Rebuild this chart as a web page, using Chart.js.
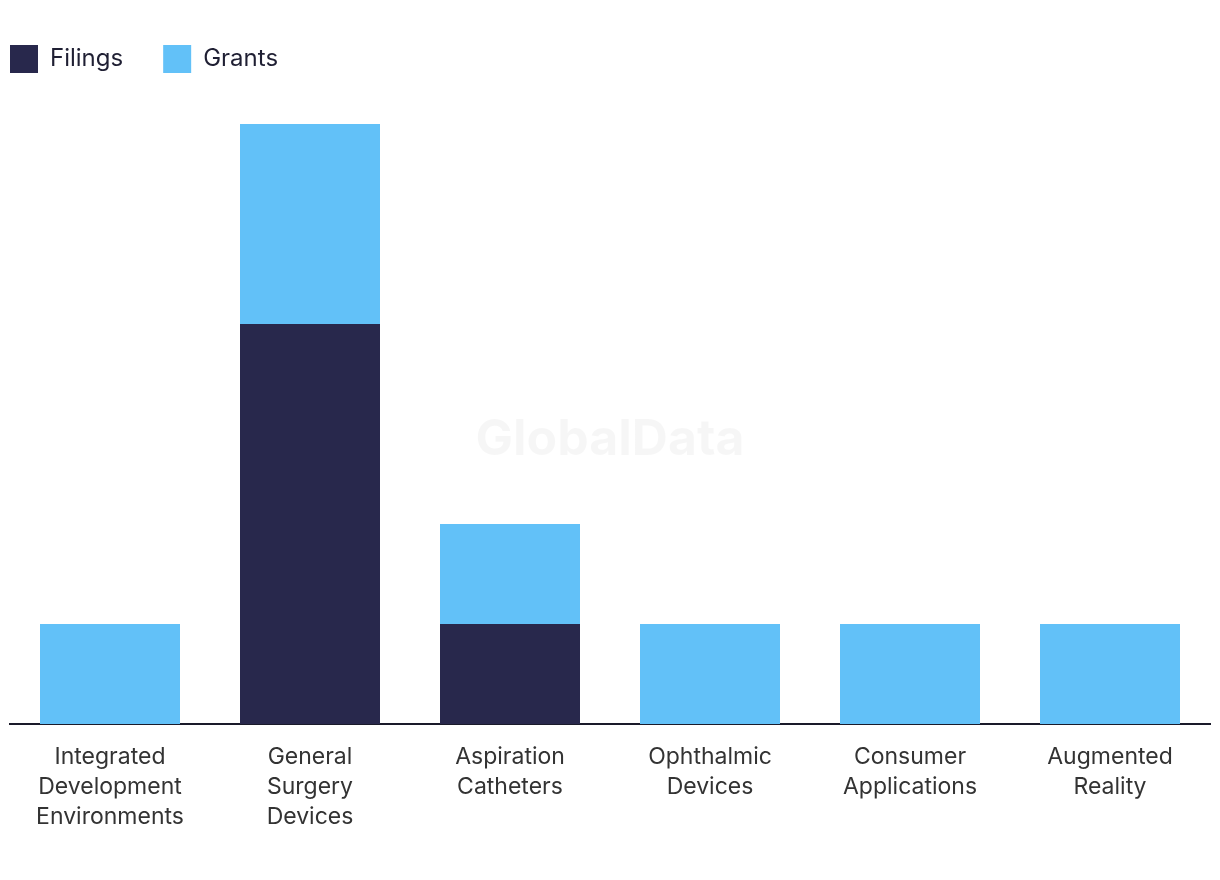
<!DOCTYPE html>
<html>
<head>
<meta charset="utf-8">
<script src="https://cdn.jsdelivr.net/npm/chart.js@4"></script>
<style>
  html, body { margin: 0; padding: 0; background: #ffffff; }
  #wrap { width: 1220px; height: 880px; }
</style>
</head>
<body>
<div id="wrap"><canvas id="ChartCanvas" width="1220" height="880"></canvas></div>
<script>
var categories = [
    ["Integrated", "Development", "Environments"],
    ["General", "Surgery", "Devices"],
    ["Aspiration", "Catheters"],
    ["Ophthalmic", "Devices"],
    ["Consumer", "Applications"],
    ["Augmented", "Reality"]
];
var filings = [0, 4, 1, 0, 0, 0];
var grants = [1, 2, 1, 1, 1, 1];

var fontFamily = "Inter, 'Noto Sans', sans-serif";

// faint watermark in the middle of the plot
var watermark = {
    id: 'watermark',
    beforeDatasetsDraw: function (chart) {
        var ctx = chart.ctx;
        ctx.save();
        ctx.font = "bold 50px " + fontFamily;
        ctx.fillStyle = "rgba(0, 0, 0, 0.035)";
        ctx.textAlign = "center";
        ctx.textBaseline = "middle";
        ctx.fillText("GlobalData", 610, 440);
        ctx.restore();
    }
};

// the legend sits further up and flush left, away from the plot area
var legendShift = {
    id: 'legendShift',
    afterLayout: function (chart) {
        chart.legend.left -= 40;
        chart.legend.right -= 40;
        chart.legend.top -= 41;
        chart.legend.bottom -= 41;
    }
};

var chartContext = document.getElementById("ChartCanvas").getContext("2d");

var createdChart = new Chart(chartContext, {
    type: "bar",
    data: {
        labels: categories,
        datasets: [
            {
                label: "Filings",
                data: filings,
                backgroundColor: "#28284c",
                categoryPercentage: 0.7,
                barPercentage: 1.0
            },
            {
                label: "Grants",
                data: grants,
                backgroundColor: "#62c1f8",
                categoryPercentage: 0.7,
                barPercentage: 1.0
            }
        ]
    },
    options: {
        responsive: false,
        animation: false,
        layout: {
            padding: { left: 10, right: 10, top: 46, bottom: 30 }
        },
        plugins: {
            legend: {
                position: "top",
                align: "start",
                labels: {
                    boxWidth: 28,
                    boxHeight: 28,
                    padding: 40,
                    color: "#1f1f33",
                    font: { family: fontFamily, size: 24 }
                }
            },
            tooltip: { enabled: false }
        },
        scales: {
            x: {
                stacked: true,
                grid: { display: false, drawTicks: false },
                border: { display: true, color: "#1a1a2a", width: 2 },
                ticks: {
                    color: "#333333",
                    padding: 18,
                    maxRotation: 0,
                    font: { family: fontFamily, size: 23, lineHeight: 1.304 }
                }
            },
            y: {
                stacked: true,
                display: false,
                min: 0,
                max: 6
            }
        }
    },
    plugins: [watermark, legendShift]
});
</script>
</body>
</html>
